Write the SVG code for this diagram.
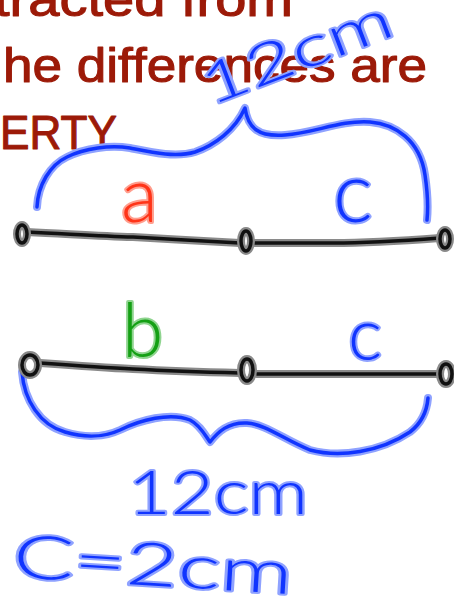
<svg xmlns="http://www.w3.org/2000/svg" width="454" height="607" viewBox="0 0 454 607">
<style>
.print{font-family:"Liberation Sans","DejaVu Sans",sans-serif;font-size:48px;fill:#9c1a08;stroke:#9c1a08;stroke-width:1.1;stroke-linejoin:round}
.hand{font-family:Lato,"Open Sans",sans-serif;font-weight:300;paint-order:stroke;stroke-width:4;stroke-linejoin:round}
.blue{fill:#1034ff;stroke:#8fa2ff}
.red{fill:#ff3418;stroke:#ff9e8e}
.green{fill:#14a014;stroke:#8fd48f}
.halo{fill:none;stroke-linecap:round;stroke-linejoin:round;stroke-width:8}
.ink{fill:none;stroke-linecap:round;stroke-linejoin:round;stroke-width:3.5}
.bh{stroke:#8fa2ff}.bi{stroke:#1034ff}
.kh{stroke:#8a8a8a}.ki{stroke:#111}
</style>
<rect width="454" height="607" fill="#fff"/>
<g id="printed-text">
<text class="print" x="-6" y="16" textLength="299" lengthAdjust="spacingAndGlyphs">tracted from</text>
<text class="print" x="3" y="82" textLength="424" lengthAdjust="spacingAndGlyphs">he differences are</text>
<text class="print" x="0" y="149" font-size="49" textLength="117" lengthAdjust="spacingAndGlyphs">ERTY</text>
</g>
<g id="connectors">
<path class="halo kh" d="M27,232 C70,234 100,236 133,237 C170,239 200,241 240,243 M253,243 C290,243 320,243 333,243 C370,243 400,241 440,238"/>
<path class="ink ki" d="M27,232 C70,234 100,236 133,237 C170,239 200,241 240,243 M253,243 C290,243 320,243 333,243 C370,243 400,241 440,238"/>
<path class="halo kh" d="M40,363 C80,366 110,368 133,369 C170,371 200,372 240,373 M257,374 C320,374 380,374 437,374"/>
<path class="ink ki" d="M40,363 C80,366 110,368 133,369 C170,371 200,372 240,373 M257,374 C320,374 380,374 437,374"/>
<path class="halo bh" d="M37,207 C38,185 50,165 67,157 C85,148 110,145 130,148 C150,152 175,158 195,152 C215,145 235,130 245,108 C248,128 258,137 285,135 C315,133 340,120 370,122 C395,124 420,140 425,175 C428,195 428,210 427,220"/>
<path class="ink bi" d="M37,207 C38,185 50,165 67,157 C85,148 110,145 130,148 C150,152 175,158 195,152 C215,145 235,130 245,108 C248,128 258,137 285,135 C315,133 340,120 370,122 C395,124 420,140 425,175 C428,195 428,210 427,220"/>
<path class="halo bh" d="M22,372 C24,400 40,425 65,432 C85,438 105,437 120,430 C140,420 170,412 190,420 C200,425 205,435 210,442 C218,432 228,422 247,423 C265,424 285,440 310,450 C340,458 380,452 410,432 C423,422 427,410 428,398"/>
<path class="ink bi" d="M22,372 C24,400 40,425 65,432 C85,438 105,437 120,430 C140,420 170,412 190,420 C200,425 205,435 210,442 C218,432 228,422 247,423 C265,424 285,440 310,450 C340,458 380,452 410,432 C423,422 427,410 428,398"/>
</g>
<g id="points">
<g class="halo kh" stroke-width="6"><ellipse cx="22" cy="234" rx="5" ry="9"/><ellipse cx="246" cy="241" rx="5" ry="10"/><ellipse cx="445" cy="239" rx="5" ry="9"/><ellipse cx="30" cy="365" rx="8" ry="10"/><ellipse cx="247" cy="370" rx="6" ry="11"/><ellipse cx="446" cy="374" rx="6" ry="10"/></g>
<g class="ink ki" stroke-width="3"><ellipse cx="22" cy="234" rx="5" ry="9"/><ellipse cx="246" cy="241" rx="5" ry="10"/><ellipse cx="445" cy="239" rx="5" ry="9"/><ellipse cx="30" cy="365" rx="8" ry="10"/><ellipse cx="247" cy="370" rx="6" ry="11"/><ellipse cx="446" cy="374" rx="6" ry="10"/></g>
</g>
<g id="labels">
<text class="hand red" x="121" y="222" font-size="76">a</text>
<text class="hand blue" x="333" y="222" font-size="84">c</text>
<text class="hand green" x="122" y="357" font-size="75">b</text>
<text class="hand blue" x="348" y="360" font-size="72">c</text>
<text class="hand blue" x="210" y="106" font-size="56" textLength="200" lengthAdjust="spacingAndGlyphs" transform="rotate(-21 210 106)">12cm</text>
<text class="hand blue" x="128" y="514" font-size="62" textLength="180" lengthAdjust="spacingAndGlyphs">12cm</text>
<text class="hand blue" x="12" y="577" font-size="60" textLength="280" lengthAdjust="spacingAndGlyphs" transform="rotate(3.5 12 577)">C=2cm</text>
</g>
</svg>
